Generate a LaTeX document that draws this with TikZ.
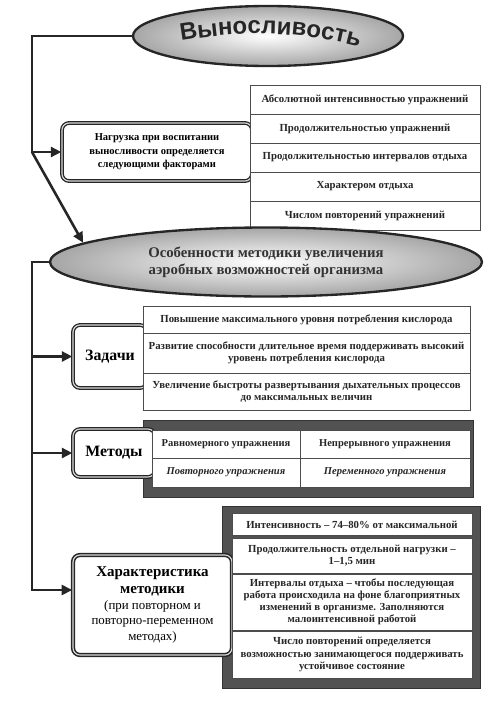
\documentclass[tikz,border=0pt]{standalone}
\usepackage{fontspec}
\setmainfont{Liberation Serif}
\setsansfont{Liberation Sans}
\usetikzlibrary{shapes.geometric,arrows.meta,decorations.text}

\providecommand{\cellfont}{\fontsize{9.2}{10.4}\selectfont}
\providecommand{\headfont}{\fontsize{13.5}{15}\selectfont}
\providecommand{\subfont}{\mdseries\fontsize{11}{12.8}\selectfont}

\tikzset{
  wh/.style 2 args={minimum width=#1*0.03cm,minimum height=#2*0.03cm},
  oval/.style={ellipse,draw=black!85,line width=2pt,inner color=white,outer color=gray!70,inner sep=0pt},
  headbox/.style={draw=black!85,line width=1.1pt,double=gray!30,double distance=1pt,rounded corners=6pt,fill=white,align=center,inner sep=2pt},
  cell/.style={draw=black!70,line width=0.5pt,fill=white,align=center,inner sep=1pt,text=black!85,font=\cellfont\bfseries},
  darkframe/.style={fill=black!68,draw=black!80,line width=0.6pt},
  conn/.style={draw=black!85,line width=2.2pt},
  arr/.style={conn,-{Triangle[length=9pt,width=8.5pt]}}
}

\begin{document}
\begin{tikzpicture}[x=0.03cm,y=-0.03cm]
    \useasboundingbox (0,0) rectangle (500,701);
    % top ellipse with arched title
    \node[oval,wh={270}{60}] (endur) at (268,36) {};
    \path[decorate,decoration={text along path,text align=center,
      text={|\sffamily\bfseries\fontsize{20.5}{24}\selectfont\color{black!85}|Выносливость}}]
      (174,42) .. controls (240,30) and (300,30) .. (366,49);
    % load factors
    \node[headbox,wh={190}{58},font=\fontsize{9}{11.4}\selectfont\bfseries] (nag) at (157,152)
      {Нагрузка при воспитании\\выносливости определяется\\следующими факторами};
    \foreach \t [count=\i] in {Абсолютной интенсивностью упражнений,Продолжительностью упражнений,
      Продолжительностью интервалов отдыха,Характером отдыха,Числом повторений упражнений}
      \node[cell,wh={230}{29}] (f\i) at (365,{70.5+29*\i}) {\t};
    % second ellipse
    \node[oval,wh={432}{69},font=\fontsize{12.6}{14.6}\selectfont\bfseries,text=black!80,align=center] (aerob) at (266,262)
      {Особенности методики увеличения\\аэробных возможностей организма};
    % tasks
    \node[headbox,wh={74}{63},font=\headfont\bfseries] (zad) at (110,356.5) {Задачи};
    \node[cell,wh={327}{27}] (t1) at (306.5,319.5)
      {Повышение максимального уровня потребления кислорода};
    \node[cell,wh={327}{40}] (t2) at (306.5,353)
      {Развитие способности длительное время поддерживать высокий\\уровень потребления кислорода};
    \node[cell,wh={327}{37}] (t3) at (306.5,391.5)
      {Увеличение быстроты развертывания дыхательных процессов\\до максимальных величин};
    % methods
    \node[darkframe,wh={330}{77}] (metframe) at (308,458.5) {};
    \node[headbox,wh={82}{48},font=\headfont\bfseries] (met) at (114,453) {Методы};
    \node[cell,wh={148}{28},font=\fontsize{9}{10.4}\selectfont\bfseries] (m1) at (226,444) {Равномерного упражнения};
    \node[cell,wh={170}{28},font=\fontsize{9}{10.4}\selectfont\bfseries] (m2) at (385,444) {Непрерывного упражнения};
    \node[cell,wh={148}{29},font=\fontsize{9}{10.4}\selectfont\bfseries\itshape] (m3) at (226,472.5) {Повторного упражнения};
    \node[cell,wh={170}{29},font=\fontsize{9}{10.4}\selectfont\bfseries\itshape] (m4) at (385,472.5) {Переменного упражнения};
    % method characteristics
    \node[darkframe,wh={258}{182}] (charframe) at (351,597) {};
    \node[headbox,wh={159}{100},line width=1.3pt,font=\fontsize{12.8}{14.2}\selectfont\bfseries] (char) at (152.5,605)
      {Характеристика\\методики\\[-0.5pt]\subfont (при повторном и\\[-1.2pt]\subfont повторно-переменном\\[-1.2pt]\subfont методах)};
    \node[cell,wh={240}{22}] (c1) at (352,524.5)
      {Интенсивность – 74–80\% от максимальной};
    \node[cell,wh={240}{35}] (c2) at (352,555.5)
      {Продолжительность отдельной нагрузки –\\1–1,5 мин};
    \node[cell,wh={240}{56}] (c3) at (352,602)
      {Интервалы отдыха – чтобы последующая\\работа происходила на фоне благоприятных\\изменений в организме. Заполняются\\малоинтенсивной работой};
    \node[cell,wh={240}{47}] (c4) at (352,654.5)
      {Число повторений определяется\\возможностью занимающегося поддерживать\\устойчивое состояние};
    % connectors
    \coordinate (j1) at (32,152);
    \coordinate (j2) at (32,590);
    \draw[arr] (endur.west) -| (j1) -- (nag.west);
    \draw[arr] (j1) -- (aerob.174);
    \draw[arr] (aerob.west) -| (j2) -- (char.west |- j2);
    \draw[arr] (zad.west -| j2) -- (zad.west);
    \draw[arr] (met.west -| j2) -- (met.west);
\end{tikzpicture}
\end{document}
